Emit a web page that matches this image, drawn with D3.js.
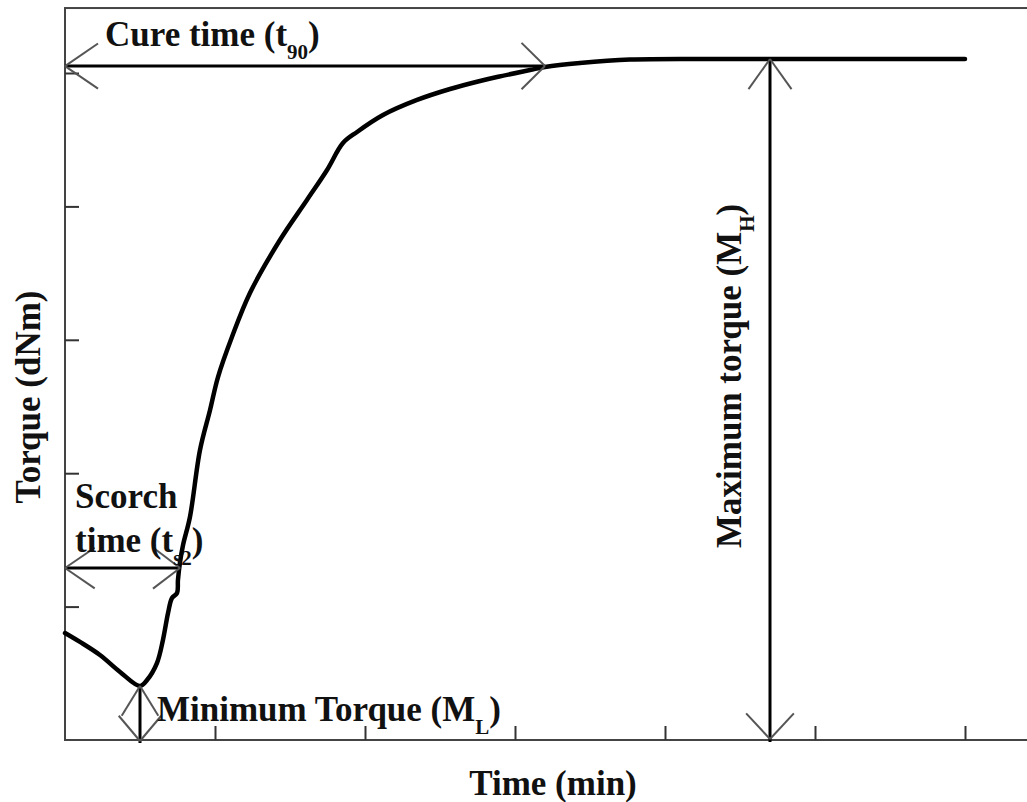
<!DOCTYPE html>
<html>
<head>
<meta charset="utf-8">
<script src="https://cdn.jsdelivr.net/npm/d3@7"></script>
<style>
  html, body { margin: 0; padding: 0; background: #fff; }
  svg { display: block; }
  text { font-family: "Liberation Serif", "Times New Roman", serif; font-weight: bold; fill: #111; }
</style>
</head>
<body>
<svg id="chart" width="1027" height="802"></svg>
<script>
// Rheometer cure curve: torque vs time
const timeMin = [0, 0.1, 0.233, 0.367, 0.5, 0.547, 0.613, 0.653, 0.687, 0.713, 0.747, 0.753, 0.767, 0.787,
  0.833, 0.9, 0.967, 1.02, 1.113, 1.233, 1.433, 1.613, 1.747, 1.853, 1.947, 2.12, 2.347, 2.567, 2.767,
  2.88, 3.1, 3.2, 3.433, 3.767, 4.433, 6.0];
const torque = [0.802, 0.735, 0.637, 0.51, 0.405, 0.45, 0.577, 0.75, 0.952, 1.064, 1.102, 1.199, 1.334, 1.462,
  1.672, 2.174, 2.474, 2.721, 3.021, 3.351, 3.748, 4.048, 4.273, 4.475, 4.558, 4.685, 4.798, 4.88, 4.94,
  4.97, 5.022, 5.045, 5.075, 5.101, 5.105, 5.105];

// Axis ticks (unlabelled)
const xTicks = [1, 2, 3, 4, 5, 6];
const yTicks = [1, 2, 3, 4, 5];

// Characteristic points
const minTorque = { t: 0.5, v: 0.405 };        // M_L
const maxTorque = { t: 4.7, v: 5.105 };        // M_H
const cureTime = { t: 3.2, v: 5.052 };         // t90
const scorchTime = { t: 0.767, v: 1.289 };     // ts2

const svg = d3.select("#chart");
const x = d3.scaleLinear().domain([0, 6.5]).range([65, 1040]);
const y = d3.scaleLinear().domain([0, 5]).range([740, 73]);
const yTop = 5.487;

// Frame
const frame = svg.append("g").attr("stroke", "#444").attr("stroke-width", 2).attr("fill", "none");
frame.append("rect")
  .attr("x", x(0)).attr("y", y(yTop))
  .attr("width", x(6.5) - x(0)).attr("height", y(0) - y(yTop));

// Inward ticks
svg.append("g").attr("transform", `translate(0,${y(0)})`)
  .call(d3.axisBottom(x).tickValues(xTicks).tickSize(-14).tickFormat(""))
  .call(g => g.select(".domain").remove())
  .call(g => g.selectAll("line").attr("stroke", "#333").attr("stroke-width", 2));
svg.append("g").attr("transform", `translate(${x(0)},0)`)
  .call(d3.axisLeft(y).tickValues(yTicks).tickSize(-14).tickFormat(""))
  .call(g => g.select(".domain").remove())
  .call(g => g.selectAll("line").attr("stroke", "#333").attr("stroke-width", 2));

// Cure curve
const line = d3.line().x((d, i) => x(timeMin[i])).y((d, i) => y(torque[i]))
  .curve(d3.curveCatmullRom.alpha(0.5));
svg.append("path").datum(torque)
  .attr("d", line)
  .attr("fill", "none").attr("stroke", "#000").attr("stroke-width", 4.5)
  .attr("stroke-linejoin", "round").attr("stroke-linecap", "round");

// Open arrowhead: two thin strokes from the tip, pointing along angle `dir` (radians)
function arrowHead(tx, ty, dir, len = 38, spread = 0.68) {
  const g = svg.append("g").attr("stroke", "#555").attr("stroke-width", 2);
  [dir + Math.PI - spread, dir + Math.PI + spread].forEach(a => {
    g.append("line").attr("x1", tx).attr("y1", ty)
      .attr("x2", tx + len * Math.cos(a)).attr("y2", ty + len * Math.sin(a));
  });
}
function shaft(x1, y1, x2, y2) {
  svg.append("line").attr("x1", x1).attr("y1", y1).attr("x2", x2).attr("y2", y2)
    .attr("stroke", "#000").attr("stroke-width", 3);
}

// Cure time (t90)
shaft(x(0), y(cureTime.v), x(cureTime.t), y(cureTime.v));
arrowHead(x(0), y(cureTime.v), Math.PI, 40, 0.6);
arrowHead(x(cureTime.t), y(cureTime.v), 0, 33, 0.78);

// Scorch time (ts2)
shaft(x(0), y(scorchTime.v), x(scorchTime.t), y(scorchTime.v));
arrowHead(x(0), y(scorchTime.v), Math.PI, 36, 0.6);
arrowHead(x(scorchTime.t), y(scorchTime.v), 0, 34, 0.65);

// Maximum torque (MH)
shaft(x(maxTorque.t), y(maxTorque.v), x(maxTorque.t), y(0) + 2);
arrowHead(x(maxTorque.t), y(maxTorque.v), -Math.PI / 2, 37, 0.62);
arrowHead(x(maxTorque.t), y(0) - 1, Math.PI / 2, 35, 0.75);

// Minimum torque (ML)
shaft(x(minTorque.t), y(minTorque.v), x(minTorque.t), y(0) + 3);
arrowHead(x(minTorque.t), y(minTorque.v), -Math.PI / 2, 35, 0.55);
arrowHead(x(minTorque.t), y(0) + 1, Math.PI / 2, 33, 0.7);

// Labels with subscripts
function label(parent, px, py, parts, opts = {}) {
  const t = parent.append("text").attr("x", px).attr("y", py)
    .attr("font-size", opts.size || 35);
  if (opts.anchor) t.attr("text-anchor", opts.anchor);
  if (opts.rotate) t.attr("transform", `rotate(${opts.rotate},${px},${py})`);
  parts.forEach(p => {
    const s = t.append("tspan").text(p.text);
    if (p.sub) s.attr("font-size", 21).attr("dy", 13);
    if (p.back) s.attr("dy", -13);
  });
  return t;
}

label(svg, 105, 46, [{ text: "Cure time (t" }, { text: "90", sub: true }, { text: ")", back: true }]);
label(svg, 75, 508, [{ text: "Scorch" }]);
label(svg, 75, 552, [{ text: "time (t" }, { text: "s2", sub: true }, { text: ")", back: true }]);
label(svg, 157, 721, [{ text: "Minimum Torque (M" }, { text: "L", sub: true }, { text: ")", back: true }]);
label(svg, 741, 548, [{ text: "Maximum torque (M" }, { text: "H", sub: true }, { text: ")", back: true }], { rotate: -90 });

// Axis titles
label(svg, 40, 397, [{ text: "Torque (dNm)" }], { rotate: -90, anchor: "middle" });
label(svg, 553, 795, [{ text: "Time (min)" }], { anchor: "middle" });
</script>
</body>
</html>
